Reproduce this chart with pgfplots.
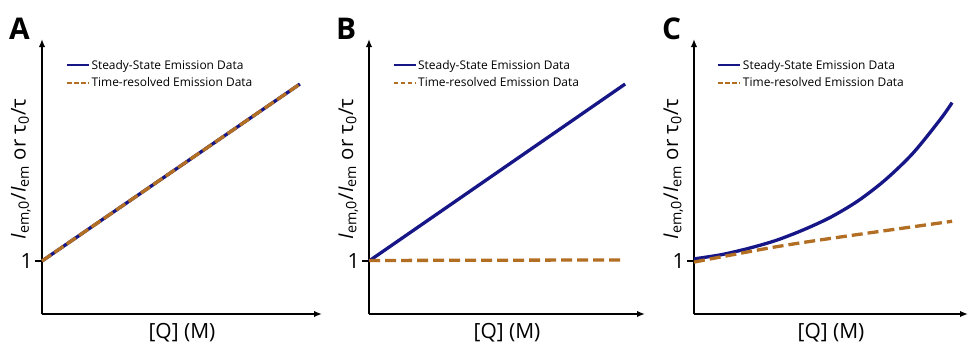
\documentclass[border=0pt]{standalone}
\usepackage{fontspec}
\setmainfont{Open Sans}
\usepackage{pgfplots}
\pgfplotsset{compat=1.18}
\usetikzlibrary{arrows.meta}
\definecolor{ssblue}{RGB}{22,22,135}
\definecolor{trbrown}{RGB}{178,110,34}
\pgfplotsset{
  panel/.style={
    scale only axis, width=276bp, height=275bp,
    anchor=south west,
    xmin=0, xmax=1, ymin=0, ymax=5.19,
    axis lines=left,
    axis line style={line width=1.7bp, -{Latex[length=8bp,width=6.5bp]}},
    xtick=\empty, ytick={1}, yticklabels={1},
    tick align=outside, major tick length=7bp,
    every tick/.style={black, line width=2.2bp},
    /pgf/number format/assume math mode=true,
    tick label style={font=\fontsize{21}{23}\selectfont},
    yticklabel style={xshift=1bp},
    xlabel={[Q] (M)},
    xlabel style={at={(axis description cs:0.5,-0.068)}, anchor=center, font=\fontsize{21}{23}\selectfont},
    ylabel={\textit{I}\textsubscript{em,0}/\textit{I}\textsubscript{em} or τ\textsubscript{0}/τ},
    ylabel style={at={(axis description cs:-0.075,0.527)}, anchor=center, rotate=0, font=\fontsize{20.5}{23}\selectfont},
    legend cell align=left,
    legend style={draw=none, fill=none, at={(axis description cs:0.085,0.93)}, anchor=north west,
      font=\fontsize{12}{13}\selectfont, row sep=4bp, inner sep=0pt,
      nodes={inner sep=1.5bp}},
    legend image code/.code={\draw[#1] (0bp,0bp) -- (22bp,0bp);},
    clip=false,
  },
  ssline/.style={color=ssblue, line width=3.3bp},
  trline/.style={color=trbrown, line width=3.3bp, dash pattern=on 11bp off 5bp},
  sslegend/.style={color=ssblue, line width=2bp},
  trlegend/.style={color=trbrown, line width=2bp, dash pattern=on 4.5bp off 2.5bp},
}
\begin{document}
\begin{tikzpicture}
\useasboundingbox (0,0) rectangle (969bp,347bp);
% Panel A
\begin{axis}[panel, at={(42bp,33bp)}, width=280bp]
\addplot[ssline, forget plot] coordinates {(0,1) (0.921,4.34)};
\addplot[trline, dash pattern=on 11bp off 4bp, forget plot] coordinates {(0,1) (0.921,4.34)};
\addlegendimage{sslegend}
\addlegendentry{Steady-State Emission Data}
\addlegendimage{trlegend}
\addlegendentry{Time-resolved Emission Data}
\end{axis}
% Panel B
\begin{axis}[panel, at={(369bp,33bp)}]
\addplot[ssline, forget plot] coordinates {(0,1) (0.928,4.34)};
\addplot[trline, forget plot] coordinates {(0,1.01) (0.91,1.02)};
\addlegendimage{sslegend}
\addlegendentry{Steady-State Emission Data}
\addlegendimage{trlegend}
\addlegendentry{Time-resolved Emission Data}
\end{axis}
% Panel C
\begin{axis}[panel, at={(694bp,33bp)}, width=274bp]
\addplot[ssline, smooth, forget plot] coordinates {(0,1.04) (0.1,1.12) (0.2,1.24) (0.3,1.39) (0.4,1.59) (0.5,1.83) (0.6,2.14) (0.7,2.54) (0.8,3.04) (0.9,3.68) (0.942,3.99)};
\addplot[trline, smooth, forget plot] coordinates {(0,0.98) (0.29,1.26) (0.53,1.45) (0.942,1.75)};
\addlegendimage{sslegend}
\addlegendentry{Steady-State Emission Data}
\addlegendimage{trlegend}
\addlegendentry{Time-resolved Emission Data}
\end{axis}
\node[anchor=base west, font=\fontsize{30}{32}\selectfont\bfseries, inner sep=0pt] at (9bp,307bp) {A};
\node[anchor=base west, font=\fontsize{30}{32}\selectfont\bfseries, inner sep=0pt] at (336bp,307bp) {B};
\node[anchor=base west, font=\fontsize{30}{32}\selectfont\bfseries, inner sep=0pt] at (662bp,307bp) {C};
\end{tikzpicture}
\end{document}
